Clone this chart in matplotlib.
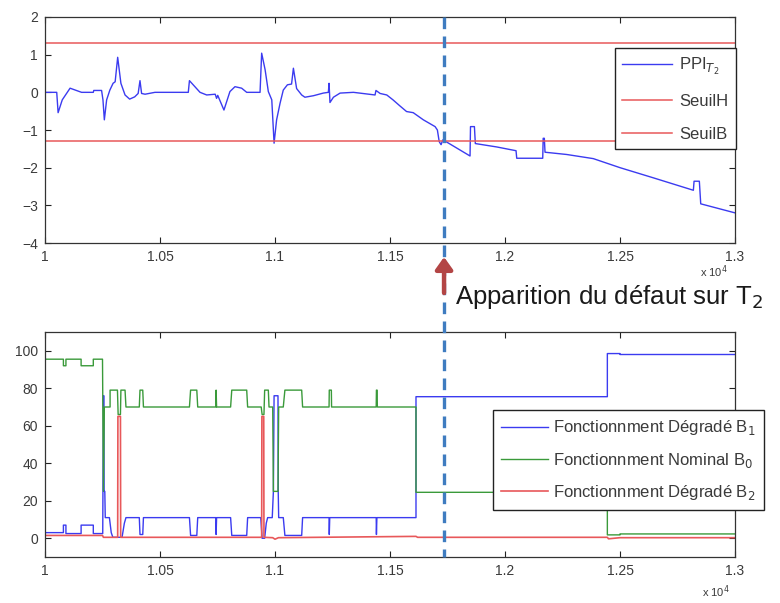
import matplotlib
matplotlib.use("Agg")
import matplotlib.pyplot as plt
import matplotlib.transforms as mtransforms
from matplotlib.lines import Line2D
from matplotlib.patches import FancyArrowPatch
from matplotlib.ticker import FuncFormatter, MultipleLocator

plt.rcParams['font.family'] = ['Liberation Sans', 'DejaVu Sans']

# ---------------- data ----------------
# Top: PPI_T2 indicator
ppi_x = [10000, 10051, 10057, 10075, 10109, 10159, 10210, 10212, 10246, 10252, 10258,
         10268, 10282, 10296, 10305, 10316, 10330, 10348, 10368, 10390, 10405, 10413,
         10420, 10435, 10478, 10623, 10628, 10674, 10703, 10740, 10746, 10751, 10778,
         10804, 10826, 10855, 10877, 10935, 10942, 10957, 10971, 10986, 10996, 11007,
         11022, 11036, 11054, 11072, 11080, 11094, 11116, 11130, 11167, 11210, 11232,
         11235, 11239, 11254, 11283, 11341, 11435, 11439, 11457, 11486, 11513, 11543,
         11572, 11601, 11645, 11696, 11706, 11714, 11722, 11730, 11848, 11850, 11867,
         11871, 11964, 12048, 12051, 12164, 12166, 12171, 12174, 12268, 12384, 12500,
         12645, 12761, 12819, 12822, 12845, 12851, 13000]
ppi_y = [0.0, 0.0, -0.54, -0.2, 0.11, 0.0, 0.0, 0.05, 0.05, -0.2, -0.73,
         -0.2, 0.06, 0.24, 0.28, 0.93, 0.24, -0.07, -0.18, -0.12, -0.03, 0.31,
         -0.03, -0.05, 0.0, 0.0, 0.31, 0.0, -0.07, -0.05, -0.16, -0.08, -0.47,
         0.02, 0.15, 0.11, 0.0, 0.0, 1.04, 0.6, 0.02, -0.2, -1.35, -0.73,
         -0.29, 0.06, 0.2, 0.22, 0.64, 0.1, -0.07, -0.13, -0.09, -0.02, 0.0,
         0.24, -0.27, -0.13, -0.02, 0.0, -0.07, 0.05, -0.03, -0.07, -0.2, -0.36,
         -0.51, -0.54, -0.73, -0.91, -1.0, -1.31, -1.39, -1.26, -1.69, -0.91, -0.91,
         -1.36, -1.45, -1.55, -1.75, -1.75, -1.22, -1.22, -1.59, -1.65, -1.76, -2.0,
         -2.27, -2.49, -2.6, -2.36, -2.36, -2.96, -3.2]
seuil_h = 1.3
seuil_b = -1.28

# Bottom: operating modes (%)
b0_x = [10000, 10080, 10080, 10091, 10091, 10157, 10157, 10210, 10210, 10250, 10254,
        10258, 10283, 10283, 10315, 10318, 10328, 10330, 10348, 10352, 10410, 10413,
        10425, 10428, 10628, 10633, 10660, 10664, 10743, 10744, 10746, 10807, 10812,
        10877, 10881, 10940, 10944, 10952, 10955, 10971, 10974, 10990, 10993, 11013,
        11016, 11036, 11043, 11116, 11120, 11235, 11236, 11245, 11246, 11440, 11441,
        11444, 11445, 11613, 11613, 12445, 12445, 12500, 12500, 13000]
b0_y = [95.5, 95.5, 92, 92, 95.5, 95.5, 92, 92, 95.5, 95.5, 25,
        70, 70, 79, 79, 66, 66, 79, 79, 70, 70, 79,
        79, 70, 70, 79, 79, 70, 70, 79, 70, 70, 79,
        79, 70, 70, 66, 66, 79, 79, 70, 70, 25, 25,
        70, 70, 79, 79, 70, 70, 79, 79, 70, 70, 79,
        79, 70, 70, 24.5, 24.5, 1.8, 1.8, 2.3, 2.3]

b1_x = [10000, 10080, 10080, 10091, 10091, 10157, 10157, 10210, 10210, 10251, 10254,
        10256, 10257, 10260, 10262, 10280, 10288, 10295, 10335, 10345, 10352, 10410,
        10413, 10425, 10428, 10628, 10633, 10660, 10664, 10743, 10744, 10746, 10807,
        10812, 10877, 10881, 10938, 10944, 10955, 10962, 10968, 10988, 10993, 10996,
        11013, 11014, 11016, 11036, 11043, 11116, 11120, 11235, 11236, 11238, 11440,
        11441, 11443, 11613, 11613, 12445, 12445, 12500, 12500, 13000]
b1_y = [3, 3, 7, 7, 2.5, 2.5, 7, 7, 2.5, 2.5, 76,
        76, 25, 25, 11, 11, 3, 0.5, 0.5, 8, 11, 11,
        2, 2, 11, 11, 1.5, 1.5, 11, 11, 2, 11, 11,
        1.5, 1.5, 11, 11, 0, 0, 8, 11, 11, 25, 76,
        76, 25, 11, 11, 1.5, 1.5, 11, 11, 2, 11, 11,
        2, 11, 11, 75.5, 75.5, 98.5, 98.5, 98, 98]

b2_x = [10000, 10250, 10254, 10316, 10317, 10328, 10329, 10942, 10943, 10951, 10952,
        10990, 11000, 11015, 11613, 11620, 12445, 12450, 12500, 13000]
b2_y = [1.5, 1.5, 0.5, 0.5, 65, 65, 0.5, 0.5, 65, 65, 0.5,
        0.3, -0.5, 0.3, 1.0, 0.5, 0.5, -0.3, 0.3, 0.3]

fault_x = 11735
xticks = [10000, 10500, 11000, 11500, 12000, 12500, 13000]

# ---------------- figure ----------------
W, H = 780, 603
fig = plt.figure(figsize=(W / 100, H / 100), dpi=100)

def fx(px):
    return px / W

def fy(py):
    return 1 - py / H

ax1 = fig.add_axes([fx(45), fy(243), fx(735) - fx(45), fy(17) - fy(243)])
ax2 = fig.add_axes([fx(45), fy(557), fx(735) - fx(45), fy(332) - fy(557)])

blue = '#3b3bf0'
red_c = '#e8585a'
green = '#3a9a3a'
txt_c = '#3a3a3a'

ax1.plot(ppi_x, ppi_y, color=blue, lw=1.0, label=r'PPI$_{T_2}$')
ax1.axhline(seuil_h, color=red_c, lw=1.1, label='SeuilH')
ax1.axhline(seuil_b, color=red_c, lw=1.1, label='SeuilB')
ax1.set_ylim(-4, 2)
ax1.yaxis.set_major_locator(MultipleLocator(1))

ax2.plot(b1_x, b1_y, color=blue, lw=1.0, label=r'Fonctionnment Dégradé B$_1$')
ax2.plot(b0_x, b0_y, color=green, lw=1.0, label=r'Fonctionnment Nominal B$_0$')
ax2.plot(b2_x, b2_y, color=red_c, lw=1.2, label=r'Fonctionnment Dégradé B$_2$')
ax2.set_ylim(-10, 110)
ax2.set_yticks([0, 20, 40, 60, 80, 100])

fmt = FuncFormatter(lambda v, p: '%g' % (v / 1e4))
for ax in (ax1, ax2):
    ax.set_xlim(10000, 13000)
    ax.set_xticks(xticks)
    ax.xaxis.set_major_formatter(fmt)
    ax.tick_params(direction='in', top=True, right=True, length=4, width=0.8,
                   labelsize=10, labelcolor=txt_c, color='#222222', pad=5)
    for s in ax.spines.values():
        s.set_color('#333333')
        s.set_linewidth(0.9)

leg1 = ax1.legend(loc='upper left', bbox_to_anchor=(0.826, 0.863),
                  fontsize=12, frameon=True, fancybox=False,
                  edgecolor='#222222', framealpha=1, handlelength=3.0,
                  handletextpad=0.4, labelspacing=1.05, borderaxespad=0,
                  borderpad=0.45)
leg1.get_frame().set_linewidth(1.0)
for t in leg1.get_texts():
    t.set_color(txt_c)

leg2 = ax2.legend(loc='upper left', bbox_to_anchor=(0.649, 0.653),
                  fontsize=12, frameon=True, fancybox=False,
                  edgecolor='#222222', framealpha=1, handlelength=2.8,
                  handletextpad=0.3, labelspacing=0.8, borderaxespad=0,
                  borderpad=0.5)
leg2.get_frame().set_linewidth(1.0)
for t in leg2.get_texts():
    t.set_color(txt_c)

# x10^4 offset labels
fig.text(fx(714), fy(272), r'x 10$^4$', fontsize=8, color=txt_c, ha='center', va='center')
fig.text(fx(716), fy(592), r'x 10$^4$', fontsize=8, color=txt_c, ha='center', va='center')

# fault line across both axes
trans = mtransforms.blended_transform_factory(ax1.transData, fig.transFigure)
fig.add_artist(Line2D([fault_x, fault_x], [fy(17), fy(557)], transform=trans,
                      color='#3f7cc0', lw=2.4, dashes=(3.5, 2.2), clip_on=False, zorder=5))

# arrow + annotation
fig.add_artist(FancyArrowPatch(
    (fault_x, fy(293)), (fault_x, fy(257)), transform=trans,
    arrowstyle='-|>,head_length=4.5,head_width=3.2', color='#b34545', lw=3.2,
    mutation_scale=1.6, shrinkA=0, shrinkB=0, zorder=6))
fig.text(fx(455), fy(297), r'Apparition du défaut sur T$_2$', fontsize=18.5,
         color='#1a1a1a', ha='left', va='center')

fig.savefig('out.png', dpi=100)
